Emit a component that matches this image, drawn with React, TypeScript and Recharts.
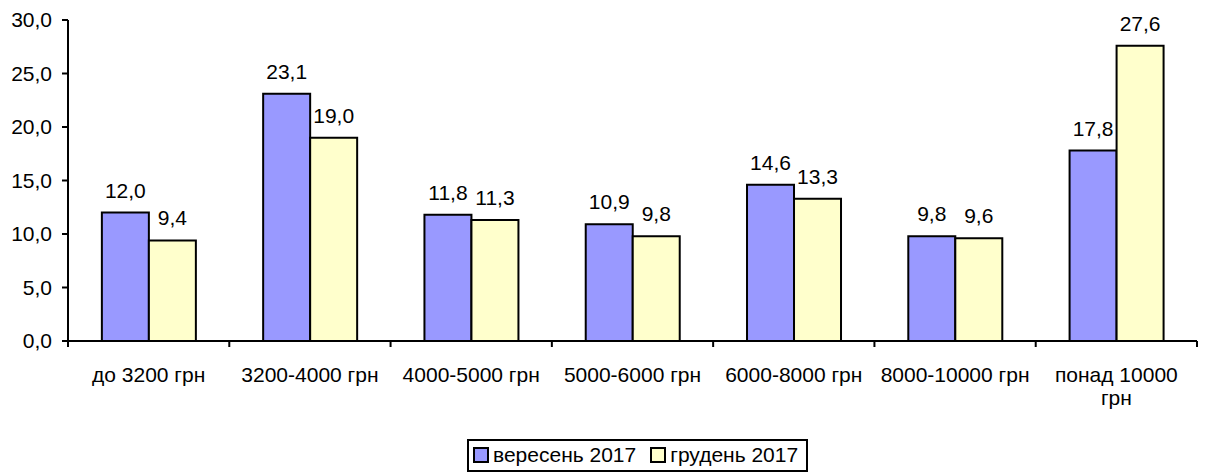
import { BarChart, Bar, XAxis, YAxis, LabelList } from 'recharts'

const CATEGORIES = ['до 3200 грн', '3200-4000 грн', '4000-5000 грн', '5000-6000 грн', '6000-8000 грн', '8000-10000 грн', 'понад 10000 грн']
const SEP_2017 = [12.0, 23.1, 11.8, 10.9, 14.6, 9.8, 17.8]
const DEC_2017 = [9.4, 19.0, 11.3, 9.8, 13.3, 9.6, 27.6]
const Y_TICKS = [0, 5, 10, 15, 20, 25, 30]
const SERIES_NAMES = ['вересень 2017', 'грудень 2017']
const COLORS = ['#9999FF', '#FFFFCC']

const data = CATEGORIES.map((name, i) => ({ name, sep: SEP_2017[i], dec: DEC_2017[i] }))

const FONT = "Arial, 'Liberation Sans', sans-serif"
const FS = 21
const W = 1217
const H = 475
const X_AXIS_H = 30
const M = { top: 20, right: 20, left: 0, bottom: 134 - X_AXIS_H }
const Y_AXIS_W = 68
const BAND = (W - M.right - Y_AXIS_W) / CATEGORIES.length

const fmt = (v: number) => v.toFixed(1).replace('.', ',')

function CategoryTick(props: any) {
  const { x, y, payload, index } = props
  const label: string = payload.value
  const lines = label === 'понад 10000 грн' ? ['понад 10000', 'грн'] : [label]
  const left = x - BAND / 2
  return (
    <g>
      <line x1={left} y1={y - 8} x2={left} y2={y - 2} stroke="#000" strokeWidth={2} />
      {index === CATEGORIES.length - 1 && (
        <line x1={left + BAND} y1={y - 8} x2={left + BAND} y2={y - 2} stroke="#000" strokeWidth={2} />
      )}
      {lines.map((l, i) => (
        <text key={i} x={x} y={y + 33 + i * 23} textAnchor="middle" fontSize={FS} fill="#000" fontFamily={FONT}>
          {l}
        </text>
      ))}
    </g>
  )
}

function LegendBox() {
  return (
    <div
      style={{
        position: 'absolute',
        left: 467,
        top: 439,
        border: '2px solid #000',
        padding: '2px 8px 3px 4px',
        display: 'flex',
        alignItems: 'center',
        fontFamily: FONT,
        fontSize: FS,
        lineHeight: '24px',
        color: '#000',
        background: '#fff',
        whiteSpace: 'nowrap',
      }}
    >
      {SERIES_NAMES.map((n, i) => (
        <span key={n} style={{ display: 'flex', alignItems: 'center', marginRight: i === 0 ? 14 : 0 }}>
          <span style={{ width: 12, height: 12, border: '2px solid #000', background: COLORS[i], marginRight: 4, display: 'inline-block' }} />
          {n}
        </span>
      ))}
    </div>
  )
}

export default function App() {
  return (
    <div style={{ position: 'absolute', left: 0, top: 0, width: W, height: H, background: '#fff' }}>
      <BarChart width={W} height={H} data={data} margin={M} barGap={0} barCategoryGap="21%">
        <XAxis
          dataKey="name"
          height={X_AXIS_H}
          tick={<CategoryTick />}
          tickLine={false}
          axisLine={{ stroke: '#000', strokeWidth: 2 }}
          interval={0}
        />
        <YAxis
          domain={[0, 30]}
          ticks={Y_TICKS}
          tickFormatter={fmt}
          width={Y_AXIS_W}
          tickSize={6}
          tickMargin={10}
          axisLine={{ stroke: '#000', strokeWidth: 2 }}
          tickLine={{ stroke: '#000', strokeWidth: 2 }}
          tick={{ fontSize: FS, fill: '#000', fontFamily: FONT }}
        />
        <Bar dataKey="sep" name={SERIES_NAMES[0]} fill={COLORS[0]} stroke="#000" strokeWidth={2} isAnimationActive={false}>
          <LabelList dataKey="sep" position="top" offset={15} formatter={(v: any) => fmt(Number(v))} style={{ fontSize: FS, fill: '#000', fontFamily: FONT }} />
        </Bar>
        <Bar dataKey="dec" name={SERIES_NAMES[1]} fill={COLORS[1]} stroke="#000" strokeWidth={2} isAnimationActive={false}>
          <LabelList dataKey="dec" position="top" offset={15} formatter={(v: any) => fmt(Number(v))} style={{ fontSize: FS, fill: '#000', fontFamily: FONT }} />
        </Bar>
      </BarChart>
      <LegendBox />
    </div>
  )
}
